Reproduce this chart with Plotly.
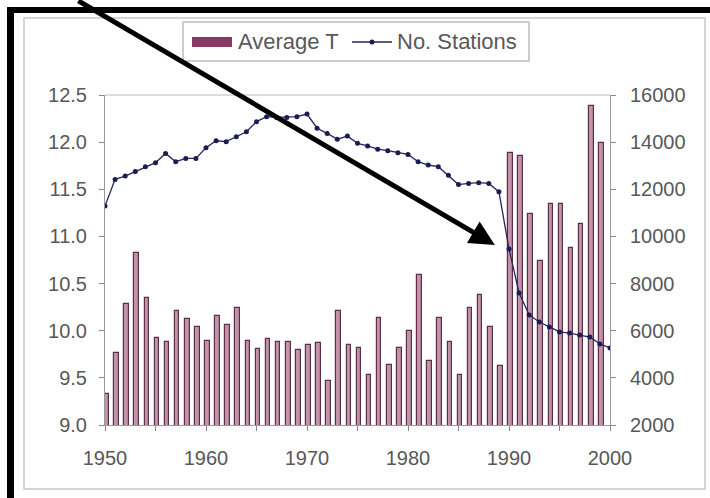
import plotly.graph_objects as go

years_t = list(range(1950, 2000))
avg_t = [9.33, 9.76, 10.28, 10.82, 10.35, 9.92, 9.88, 10.21, 10.12, 10.04,
         9.89, 10.16, 10.06, 10.24, 9.89, 9.81, 9.91, 9.88, 9.88, 9.80,
         9.85, 9.87, 9.47, 10.21, 9.85, 9.82, 9.53, 10.13, 9.64, 9.82,
         10.00, 10.59, 9.68, 10.13, 9.88, 9.53, 10.24, 10.38, 10.04, 9.63,
         11.88, 11.85, 11.24, 10.74, 11.34, 11.34, 10.88, 11.13, 12.38, 11.99]

years_s = list(range(1950, 2001))
stations = [11290, 12420, 12560, 12750, 12960, 13130, 13520, 13170, 13310, 13310,
            13760, 14060, 14020, 14230, 14440, 14870, 15080, 15050, 15050, 15080,
            15190, 14590, 14370, 14120, 14260, 13950, 13840, 13700, 13640, 13550,
            13480, 13170, 13030, 12960, 12600, 12200, 12250, 12280, 12250, 11900,
            9470, 7600, 6670, 6370, 6160, 5950, 5900, 5820, 5730, 5440, 5270]

left_ticks = [9.0, 9.5, 10.0, 10.5, 11.0, 11.5, 12.0, 12.5]
right_ticks = [2000, 4000, 6000, 8000, 10000, 12000, 14000, 16000]
x_ticks = [1950, 1960, 1970, 1980, 1990, 2000]
series_names = ["Average T", "No. Stations"]

W, H = 710, 498
ML, MR, MT, MB = 105, 100, 95, 73
PW, PH = W - ML - MR, H - MT - MB


def px(x):
    return (x - ML) / PW


def py(y):
    return (H - MB - y) / PH


font = "Liberation Sans, Arial, sans-serif"
txt = "#585858"
FS = 20
LFS = 22
bar_fill = "#c393a9"
bar_edge = "#5e2d47"
line_col = "#26265f"

fig = go.Figure()
fig.add_trace(go.Bar(
    x=years_t, y=avg_t, name=series_names[0],
    width=0.45, offset=-0.08,
    marker=dict(color=bar_fill, line=dict(color=bar_edge, width=1.2)),
    yaxis="y", showlegend=False))
fig.add_trace(go.Scatter(
    x=years_s, y=stations, name=series_names[1], mode="lines+markers",
    line=dict(color=line_col, width=1.3),
    marker=dict(color="#1c1c55", size=5),
    yaxis="y2", showlegend=False))

shapes = [
    # chart area border
    dict(type="rect", xref="paper", yref="paper",
         x0=px(24), x1=px(705), y0=py(489), y1=py(18),
         line=dict(color="#c8c8c8", width=1.5), layer="below"),
    # top border of plot area
    dict(type="line", xref="paper", yref="paper", x0=0, x1=1, y0=1, y1=1,
         line=dict(color="#d0d0d0", width=1.5)),
    # legend box
    dict(type="rect", xref="paper", yref="paper",
         x0=px(183), x1=px(529), y0=py(61), y1=py(22),
         line=dict(color="#bdbdbd", width=1.5), fillcolor="white"),
    # legend swatch for bars
    dict(type="rect", xref="paper", yref="paper",
         x0=px(192), x1=px(232), y0=py(47), y1=py(37),
         line=dict(width=0), fillcolor="#8b3862"),
    # legend line symbol
    dict(type="line", xref="paper", yref="paper",
         x0=px(352), x1=px(392), y0=py(42), y1=py(42),
         line=dict(color=line_col, width=1.3)),
    dict(type="circle", xref="paper", yref="paper",
         x0=px(369.5), x1=px(374.5), y0=py(44.5), y1=py(39.5),
         line=dict(width=0), fillcolor="#1c1c55"),
    # black frame (left and top)
    dict(type="rect", xref="paper", yref="paper",
         x0=px(7), x1=px(14), y0=py(505), y1=py(7),
         fillcolor="black", line=dict(width=0), layer="above"),
    dict(type="rect", xref="paper", yref="paper",
         x0=px(7), x1=px(715), y0=py(13), y1=py(7),
         fillcolor="black", line=dict(width=0), layer="above"),
]

annotations = [
    dict(xref="paper", yref="paper", x=px(236), y=py(42), xanchor="left", yanchor="middle",
         text=series_names[0], showarrow=False, font=dict(family=font, size=LFS, color=txt)),
    dict(xref="paper", yref="paper", x=px(395), y=py(42), xanchor="left", yanchor="middle",
         text=series_names[1], showarrow=False, font=dict(family=font, size=LFS, color=txt)),
]
# right-axis tick labels (left aligned, as in the original)
for v in right_ticks:
    annotations.append(dict(xref="paper", yref="y2", x=px(628), y=v, xanchor="left",
                            yanchor="middle", text=str(v), showarrow=False,
                            font=dict(family=font, size=FS, color=txt)))
# pointing arrow
annotations.append(dict(x=1988.6, y=9640, xref="x", yref="y2", text="",
                        showarrow=True, arrowhead=2, arrowsize=1, arrowwidth=5,
                        arrowcolor="black", ax=-418, ay=-255, standoff=0))

fig.update_layout(
    width=W, height=H,
    margin=dict(l=ML, r=MR, t=MT, b=MB, pad=0, autoexpand=False),
    paper_bgcolor="white", plot_bgcolor="white",
    font=dict(family=font, size=FS, color=txt),
    showlegend=False,
    bargap=0,
    xaxis=dict(range=[1950, 2000], tickvals=x_ticks, ticks="outside", ticklen=5,
               tickcolor="#888", showline=True, linecolor="#999", linewidth=1,
               showgrid=False, zeroline=False, ticklabelstandoff=10,
               minor=dict(dtick=5, tick0=1950, ticks="outside", ticklen=5, tickcolor="#888", showgrid=False),
               tickfont=dict(family=font, size=FS, color=txt)),
    yaxis=dict(range=[9.0, 12.5], tickvals=left_ticks, tickformat=".1f",
               ticks="outside", ticklen=5, tickcolor="#888",
               showline=True, linecolor="#999", linewidth=1,
               showgrid=False, zeroline=False, ticklabelstandoff=8,
               tickfont=dict(family=font, size=FS, color=txt)),
    yaxis2=dict(range=[2000, 16000], tickvals=right_ticks, showticklabels=False,
                overlaying="y", side="right",
                ticks="outside", ticklen=5, tickcolor="#888",
                showline=True, linecolor="#999", linewidth=1,
                showgrid=False, zeroline=False),
    shapes=shapes,
    annotations=annotations,
)

fig.write_html("out.html", config={"displayModeBar": False},
               post_script="document.body.style.margin='0';document.body.style.padding='0';")
